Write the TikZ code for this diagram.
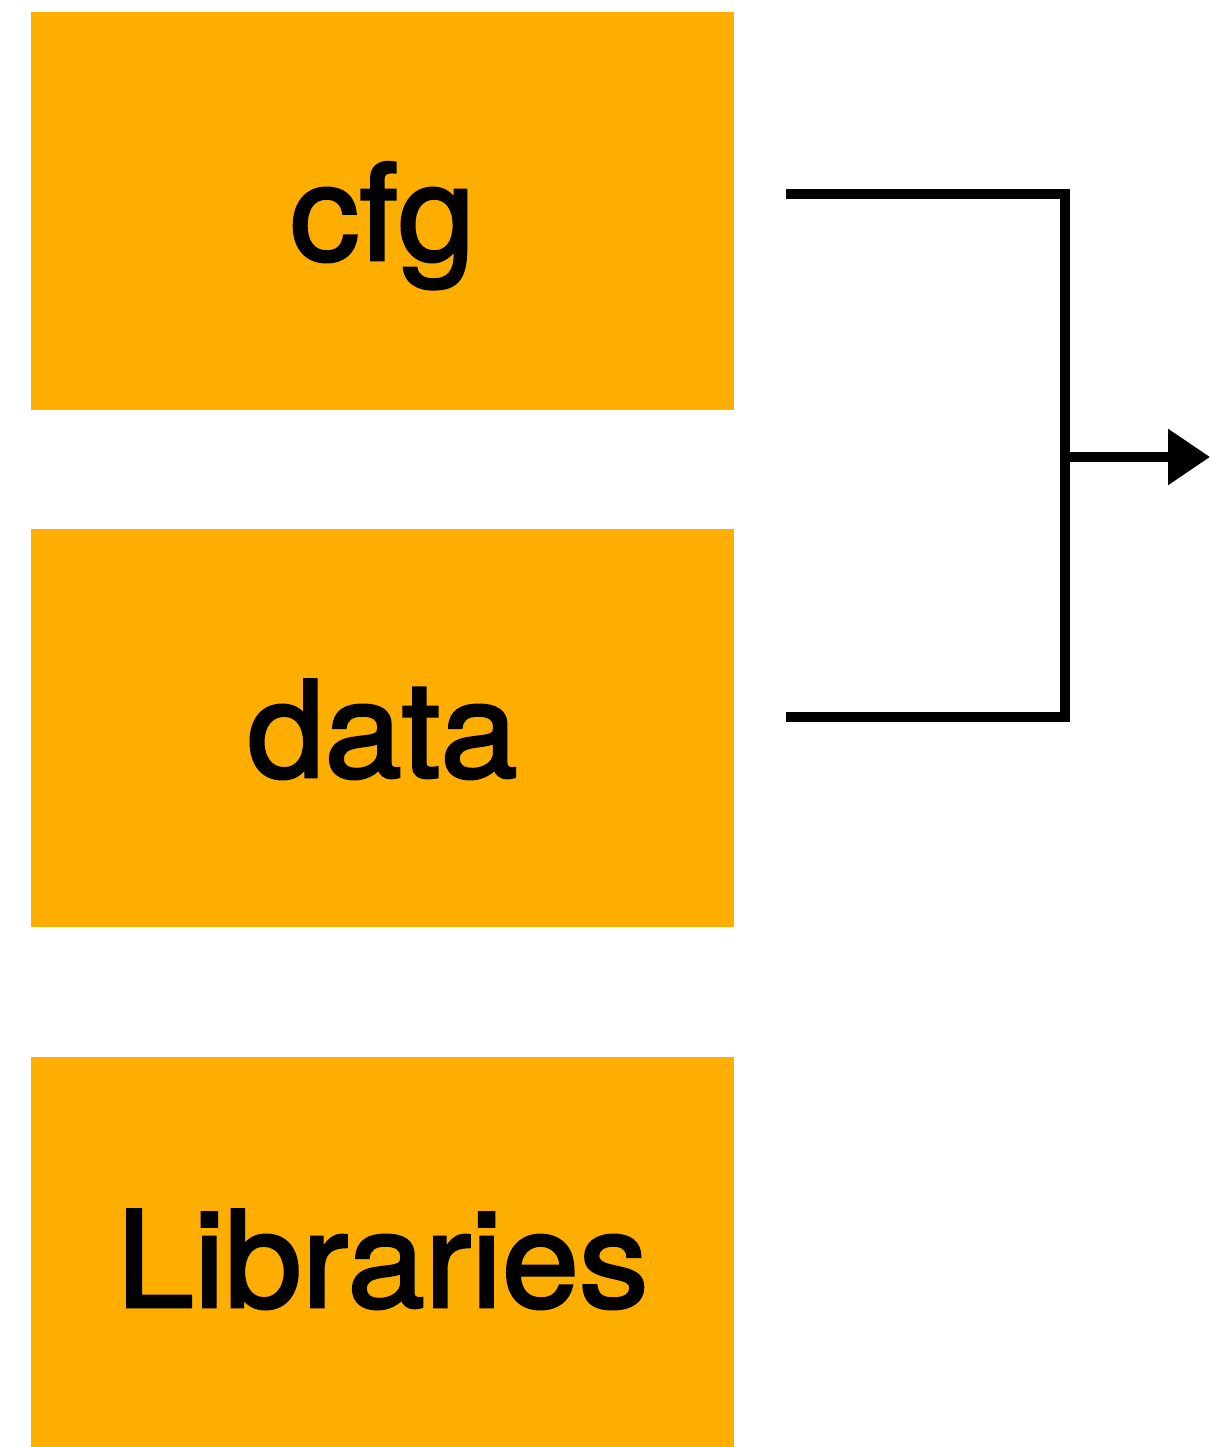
\documentclass[tikz,border=0pt]{standalone}
\usepackage{fontspec}
\setmainfont{TeX Gyre Heros}
\newfontfamily\blockfont[FakeBold=2.2, FakeStretch=1.04]{TeX Gyre Heros}
\usepackage{tikz}
\usetikzlibrary{arrows.meta}
\usepackage{xcolor}
\definecolor{boxorange}{RGB}{253,174,0}

\begin{document}
\begin{tikzpicture}[
    part/.style={fill=boxorange, minimum width=7.03cm, minimum height=3.98cm,
      text height=0.98cm, text depth=0pt, inner sep=0pt,
      font=\blockfont\fontsize{38}{44}\selectfont},
    wire/.style={line width=2.6pt}
  ]
\useasboundingbox (0,0) rectangle (12.1,-14.47);

% Three input blocks
\node[part] (cfg) at (3.825,-2.11) {cfg};
\node[part] (data) at (3.825,-7.28) {data};
\node[part, minimum height=3.9cm, text height=1.1cm] (libs) at (3.825,-12.52) {Libraries};

% Merge of cfg and data
\coordinate (join) at (10.65,-4.57);
\coordinate (out) at (12.1,-4.57);
\draw[wire] ([xshift=0.51cm,yshift=0.17cm]cfg.east) -| (join);
\draw[wire] ([xshift=0.51cm,yshift=0.11cm]data.east) -| (join);
\draw[wire, -{Triangle[length=0.42cm,width=0.54cm]}] (join) -- (out);
\end{tikzpicture}
\end{document}
